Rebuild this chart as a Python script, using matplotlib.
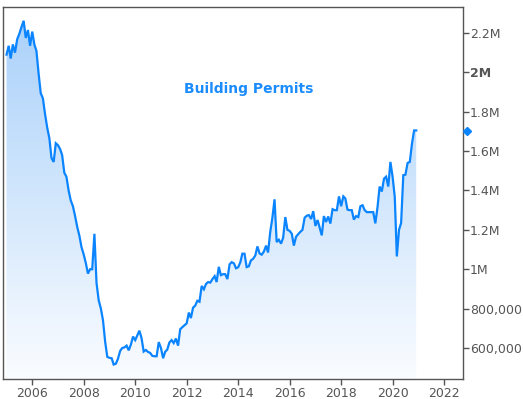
import numpy as np
import pandas as pd
import matplotlib
matplotlib.use("Agg")
import matplotlib.pyplot as plt
import matplotlib.dates as mdates
from matplotlib.colors import LinearSegmentedColormap

# Monthly building permits (thousands, SAAR), Jan 2005 - Dec 2020
y2005 = [2090, 2135, 2070, 2142, 2100, 2168, 2195, 2230, 2262, 2175, 2215, 2135]
y2006 = [2207, 2140, 2110, 1995, 1895, 1868, 1790, 1720, 1665, 1565, 1545, 1640]
y2007 = [1630, 1610, 1580, 1490, 1470, 1400, 1350, 1320, 1270, 1215, 1170, 1112]
y2008 = [1075, 1030, 978, 1000, 1000, 1180, 930, 842, 800, 740, 630, 555]
y2009 = [550, 548, 516, 520, 545, 585, 600, 603, 612, 588, 618, 658]
y2010 = [640, 665, 688, 650, 582, 590, 580, 575, 560, 558, 558, 630]
y2011 = [600, 548, 580, 592, 628, 640, 625, 648, 612, 695, 706, 715]
y2012 = [725, 780, 752, 805, 815, 840, 835, 915, 898, 925, 935, 932]
y2013 = [950, 965, 935, 1012, 970, 975, 975, 950, 1025, 1036, 1030, 1005]
y2014 = [1010, 1036, 1079, 1079, 1011, 1015, 1045, 1053, 1070, 1116, 1080, 1074]
y2015 = [1090, 1120, 1085, 1190, 1260, 1355, 1138, 1150, 1130, 1160, 1265, 1200]
y2016 = [1195, 1180, 1120, 1165, 1178, 1190, 1200, 1262, 1272, 1275, 1255, 1295]
y2017 = [1220, 1250, 1212, 1172, 1270, 1240, 1268, 1232, 1305, 1300, 1300, 1370]
y2018 = [1320, 1370, 1360, 1303, 1300, 1300, 1252, 1270, 1265, 1320, 1325, 1300]
y2019 = [1290, 1290, 1290, 1290, 1233, 1315, 1420, 1395, 1460, 1470, 1420, 1545]
y2020 = [1470, 1367, 1065, 1200, 1235, 1478, 1480, 1540, 1545, 1635, 1705, 1705]

permits_k = (y2005 + y2006 + y2007 + y2008 + y2009 + y2010 + y2011 + y2012 +
             y2013 + y2014 + y2015 + y2016 + y2017 + y2018 + y2019 + y2020)
dates = pd.date_range("2005-01-01", periods=len(permits_k), freq="MS")
values = np.array(permits_k, dtype=float) * 1000

ytick_vals = [600000, 800000, 1000000, 1200000, 1400000, 1600000, 1800000, 2000000, 2200000]
ytick_labels = ["600,000", "800,000", "1M", "1.2M", "1.4M", "1.6M", "1.8M", "2M", "2.2M"]
xtick_years = [2006, 2008, 2010, 2012, 2014, 2016, 2018, 2020, 2022]
title = "Building Permits"
last_value = 1700000

line_color = "#0a84ff"
axis_color = "#555555"

fig = plt.figure(figsize=(5.23, 3.99), dpi=100)
ax = fig.add_axes([3/523, 20/399, 460/523, 372/399])

xmin = mdates.date2num(pd.Timestamp("2004-11-12"))
xmax = mdates.date2num(pd.Timestamp("2022-09-26"))
ymin, ymax = 442500, 2332000
ax.set_xlim(xmin, xmax)
ax.set_ylim(ymin, ymax)

xnum = mdates.date2num(dates)
# gradient fill
poly = ax.fill_between(xnum, values, ymin, color="none", lw=0)
cmap = LinearSegmentedColormap.from_list("g", [(250/255, 252/255, 1.0), (168/255, 208/255, 250/255)])
grad = np.linspace(0, 1, 256).reshape(-1, 1)
im = ax.imshow(grad, cmap=cmap, aspect="auto", origin="lower",
               extent=[xmin, xmax, ymin, ymax], zorder=1)
path = poly.get_paths()[0]
im.set_clip_path(path, transform=ax.transData)

ax.plot(xnum, values, color=line_color, lw=1.6, zorder=3, solid_joinstyle="miter")

# marker for latest value on the axis
ax.plot([1.009], [last_value], marker="D", ms=4.5, color=line_color,
        transform=ax.get_yaxis_transform(), clip_on=False, zorder=5)

ax.text(0.535, 0.78, title, transform=ax.transAxes, ha="center", va="center",
        color="#1a8cff", fontsize=10, fontweight="bold")

for s in ax.spines.values():
    s.set_color(axis_color)
    s.set_linewidth(1.0)

ax.yaxis.tick_right()
ax.set_yticks(ytick_vals)
ax.set_yticklabels(ytick_labels)
for lbl, txt in zip(ax.get_yticklabels(), ytick_labels):
    if txt == "2M":
        lbl.set_fontweight("bold")

ax.set_xticks([mdates.date2num(pd.Timestamp(f"{y}-01-01")) for y in xtick_years])
ax.set_xticklabels([str(y) for y in xtick_years])

ax.tick_params(axis="both", colors=axis_color, labelcolor="#555555", labelsize=9,
               length=4, width=1.0, direction="out", pad=2)
ax.tick_params(axis="y", pad=1)

fig.savefig("out.png", dpi=100, facecolor="white")
